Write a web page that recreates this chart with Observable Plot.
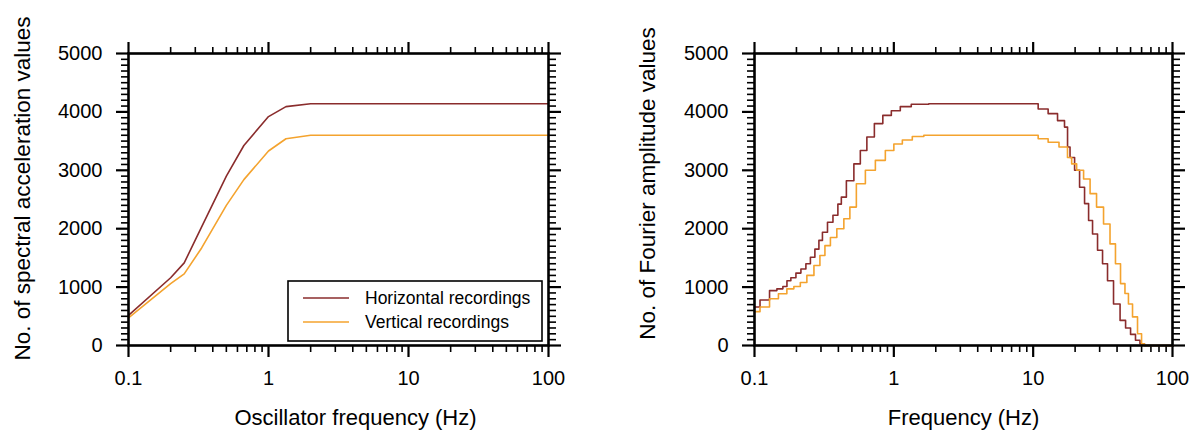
<!DOCTYPE html>
<html>
<head>
<meta charset="utf-8">
<script src="https://cdn.jsdelivr.net/npm/d3@7"></script>
<script src="https://cdn.jsdelivr.net/npm/@observablehq/plot@0.6"></script>
<style>
  html, body { margin: 0; padding: 0; background: #fff; }
  #wrap { display: flex; width: 1196px; height: 440px; }
</style>
</head>
<body>
<div id="wrap"></div>
<script>
// ---------- data ----------
const seriesNames = ["Horizontal recordings", "Vertical recordings"];
const seriesColors = ["#8a2c2c", "#f4a32e"];

const xTicks = [0.1, 1, 10, 100];
const xTickLabels = ["0.1", "1", "10", "100"];
const yTicks = [0, 1000, 2000, 3000, 4000, 5000];
const yTickLabels = ["0", "1000", "2000", "3000", "4000", "5000"];

// Spectral acceleration counts (left panel)
const saFreq   = [0.1, 0.2, 0.25, 0.333, 0.5, 0.667, 1.0, 1.333, 2.0, 5.0, 10, 50, 100];
const saHoriz  = [515, 1160, 1415, 2030, 2900, 3425, 3920, 4090, 4140, 4140, 4140, 4140, 4140];
const saVert   = [472, 1060, 1227, 1670, 2400, 2840, 3330, 3540, 3600, 3600, 3600, 3600, 3600];

// Fourier amplitude counts (right panel)
const fasHFreq = [0.1, 0.12, 0.137, 0.153, 0.167, 0.175, 0.19, 0.207, 0.224, 0.244, 0.26, 0.283, 0.297, 0.318, 0.351, 0.381, 0.413, 0.427, 0.488, 0.547, 0.604, 0.679, 0.774, 0.898, 1.025, 1.208, 1.473, 2.154, 10, 11.8, 13.9, 16.1, 17.5, 17.8, 19.0, 20.7, 22.4, 24.4, 25.6, 27.8, 30.2, 32.8, 35.6, 40.0, 44.2, 48.0, 52.1, 56.5, 60.4, 65.6, 100];
const fasHVal  = [660, 780, 940, 970, 1010, 1110, 1160, 1240, 1310, 1400, 1510, 1650, 1800, 1940, 2110, 2230, 2420, 2540, 2820, 3110, 3340, 3570, 3800, 3940, 4020, 4090, 4130, 4140, 4140, 4050, 3970, 3850, 3740, 3400, 3220, 3000, 2710, 2430, 2140, 1910, 1630, 1400, 1110, 710, 430, 300, 190, 90, 30, 0, 0];

const fasVFreq = [0.1, 0.12, 0.137, 0.161, 0.181, 0.203, 0.224, 0.252, 0.283, 0.307, 0.334, 0.368, 0.413, 0.464, 0.504, 0.575, 0.679, 0.8, 0.944, 1.06, 1.25, 1.473, 1.83, 10, 11.8, 13.9, 16.9, 18.4, 19.4, 21.7, 24.4, 26.9, 30.2, 33.9, 37.4, 40.6, 44.2, 47.0, 49.6, 53.8, 58.5, 61.5, 64, 100];
const fasVVal  = [580, 660, 800, 885, 970, 1010, 1080, 1200, 1370, 1540, 1710, 1850, 2000, 2170, 2370, 2770, 3000, 3170, 3340, 3450, 3520, 3580, 3600, 3600, 3540, 3480, 3400, 3220, 3110, 3000, 2850, 2600, 2370, 2080, 1740, 1400, 1060, 890, 710, 490, 200, 30, 0, 0];

// ---------- helpers ----------
const minorX = [];
for (const dec of [0.1, 1, 10]) for (let k = 2; k <= 9; k++) minorX.push(+(dec * k).toPrecision(3));
const minorY = d3.range(0, 5001, 100).filter(v => v % 1000 !== 0);

const FONT = "'Liberation Sans', Arial, Helvetica, sans-serif";

function toRows(freq, vals, name) {
  return freq.map((f, i) => ({f, v: vals[i], s: name}));
}

function makePanel({marginLeft, marginRight, rows, curve, xTitle, yTitle, xTitleDx, yTitleDx, yTitleDy}) {
  const blank = () => "";
  return Plot.plot({
    width: 598,
    height: 440,
    marginLeft, marginRight,
    marginTop: 53,
    marginBottom: 95,
    style: {fontFamily: FONT, fontSize: "20px", color: "black", background: "white", overflow: "visible"},
    x: {type: "log", domain: [0.1, 100]},
    y: {domain: [0, 5000]},
    color: {domain: seriesNames, range: seriesColors},
    marks: [
      // bottom axis ticks
      Plot.axisX({anchor: "bottom", ticks: xTicks, tickSize: 12, strokeWidth: 2.2, tickFormat: blank, label: null}),
      Plot.axisX({anchor: "bottom", ticks: minorX, tickSize: 7, strokeWidth: 1.6, tickFormat: blank, label: null}),
      // top axis ticks
      Plot.axisX({anchor: "top", ticks: xTicks, tickSize: 12, strokeWidth: 2.2, tickFormat: blank, label: null}),
      Plot.axisX({anchor: "top", ticks: minorX, tickSize: 7, strokeWidth: 1.6, tickFormat: blank, label: null}),
      // left axis ticks
      Plot.axisY({anchor: "left", ticks: yTicks, tickSize: 12, strokeWidth: 2.2, tickFormat: blank, label: null}),
      Plot.axisY({anchor: "left", ticks: minorY, tickSize: 7, strokeWidth: 1.6, tickFormat: blank, label: null}),
      // right axis ticks
      Plot.axisY({anchor: "right", ticks: yTicks, tickSize: 12, strokeWidth: 2.2, tickFormat: blank, label: null}),
      Plot.axisY({anchor: "right", ticks: minorY, tickSize: 7, strokeWidth: 1.6, tickFormat: blank, label: null}),
      // tick labels
      Plot.text(xTicks, {x: d => d, frameAnchor: "bottom", text: (d, i) => xTickLabels[i],
                         lineAnchor: "top", dy: 25, fontSize: 20, fill: "black"}),
      Plot.text(yTicks, {y: d => d, frameAnchor: "left", text: (d, i) => yTickLabels[i],
                         textAnchor: "end", lineAnchor: "middle", dx: -26, fontSize: 20, fill: "black"}),
      // data
      Plot.line(rows, {x: "f", y: "v", z: "s", stroke: "s", strokeWidth: 1.6, curve}),
      Plot.frame({stroke: "black", strokeWidth: 2.6}),
      // titles
      Plot.text([xTitle], {frameAnchor: "bottom", text: d => d, dy: 72, dx: xTitleDx, fontSize: 22,
                           lineAnchor: "middle", textAnchor: "middle", fill: "black"}),
      Plot.text([yTitle], {frameAnchor: "left", text: d => d, rotate: -90, dx: yTitleDx, dy: yTitleDy, fontSize: 22.5,
                           lineAnchor: "middle", textAnchor: "middle", fill: "black"})
    ]
  });
}

const leftRows = [
  ...toRows(saFreq, saHoriz, seriesNames[0]),
  ...toRows(saFreq, saVert, seriesNames[1])
];
const rightRows = [
  ...toRows(fasHFreq, fasHVal, seriesNames[0]),
  ...toRows(fasVFreq, fasVVal, seriesNames[1])
];

const left = makePanel({
  marginLeft: 128, marginRight: 50, rows: leftRows, curve: "linear",
  xTitle: "Oscillator frequency (Hz)", yTitle: "No. of spectral acceleration values",
  xTitleDx: 17, yTitleDx: -106, yTitleDy: -11
});
const right = makePanel({
  marginLeft: 156, marginRight: 24, rows: rightRows, curve: "step",
  xTitle: "Frequency (Hz)", yTitle: "No. of Fourier amplitude values",
  xTitleDx: 0, yTitleDx: -107, yTitleDy: -16
});

// legend inside left panel
const g = d3.select(left).append("g")
  .attr("font-family", FONT).attr("font-size", 17.5).attr("text-anchor", "start");
g.append("rect").attr("x", 288).attr("y", 281).attr("width", 254).attr("height", 60)
  .attr("fill", "white").attr("stroke", "black").attr("stroke-width", 1.6);
seriesNames.forEach((name, i) => {
  const y = 298 + i * 24;
  g.append("line").attr("x1", 303).attr("x2", 349).attr("y1", y).attr("y2", y)
    .attr("stroke", seriesColors[i]).attr("stroke-width", 1.6);
  g.append("text").attr("x", 365).attr("y", y).attr("dy", "0.35em").attr("fill", "black").text(name);
});

document.getElementById("wrap").append(left, right);
</script>
</body>
</html>
